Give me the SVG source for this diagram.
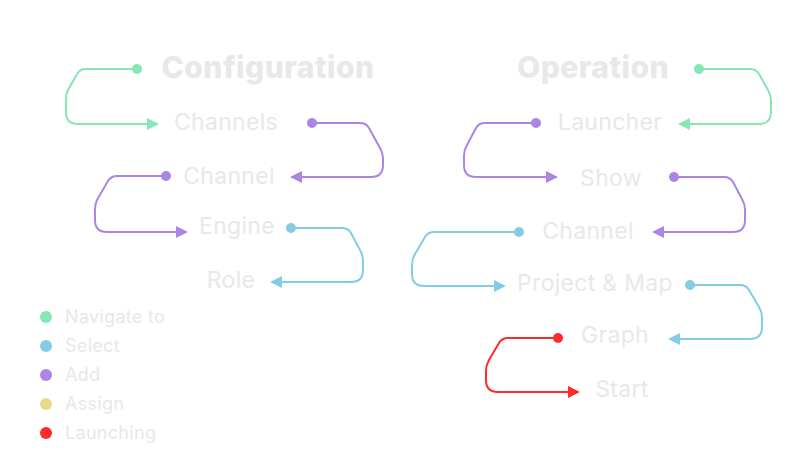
<svg xmlns="http://www.w3.org/2000/svg" width="800" height="468" viewBox="0 0 800 468">
<style>
.t{font-family:Inter,"Noto Sans","Liberation Sans",sans-serif;fill:#e8e8e8;text-anchor:middle;font-size:23px;letter-spacing:0.3px}
.h{font-size:30px;font-weight:800;letter-spacing:0.5px}
.lg{font-family:Inter,"Noto Sans","Liberation Sans",sans-serif;fill:#e8e8e8;font-size:18px;letter-spacing:0.3px}
.c{fill:none;stroke-width:2}
.g{stroke:#86e6b4}.b{stroke:#84cce6}.p{stroke:#ab84e6}.r{stroke:#ff2b2b}
</style>
<defs>
<marker id="ag" markerUnits="userSpaceOnUse" markerWidth="12" markerHeight="12" viewBox="0 0 12 12" refX="0" refY="6" orient="auto"><path d="M0,0L12,6L0,12z" fill="#86e6b4"/></marker>
<marker id="ab" markerUnits="userSpaceOnUse" markerWidth="12" markerHeight="12" viewBox="0 0 12 12" refX="0" refY="6" orient="auto"><path d="M0,0L12,6L0,12z" fill="#84cce6"/></marker>
<marker id="ap" markerUnits="userSpaceOnUse" markerWidth="12" markerHeight="12" viewBox="0 0 12 12" refX="0" refY="6" orient="auto"><path d="M0,0L12,6L0,12z" fill="#ab84e6"/></marker>
<marker id="ar" markerUnits="userSpaceOnUse" markerWidth="12" markerHeight="12" viewBox="0 0 12 12" refX="0" refY="6" orient="auto"><path d="M0,0L12,6L0,12z" fill="#ff2b2b"/></marker>
<marker id="dg" markerUnits="userSpaceOnUse" markerWidth="10" markerHeight="10" viewBox="0 0 10 10" refX="5" refY="5"><circle cx="5" cy="5" r="5" fill="#86e6b4"/></marker>
<marker id="db" markerUnits="userSpaceOnUse" markerWidth="10" markerHeight="10" viewBox="0 0 10 10" refX="5" refY="5"><circle cx="5" cy="5" r="5" fill="#84cce6"/></marker>
<marker id="dp" markerUnits="userSpaceOnUse" markerWidth="10" markerHeight="10" viewBox="0 0 10 10" refX="5" refY="5"><circle cx="5" cy="5" r="5" fill="#ab84e6"/></marker>
<marker id="dr" markerUnits="userSpaceOnUse" markerWidth="10" markerHeight="10" viewBox="0 0 10 10" refX="5" refY="5"><circle cx="5" cy="5" r="5" fill="#ff2b2b"/></marker>
</defs>
<rect width="800" height="468" fill="#ffffff"/>
<g id="connectors">
<path class="c g" marker-start="url(#dg)" marker-end="url(#ag)" d="M137,69 H86 Q80,69 77,74 L68,90 Q66,94 66,100 V112 Q66,124 78,124 H147"/>
<path class="c p" marker-start="url(#dp)" marker-end="url(#ap)" d="M312,123 H360 Q366,123 369,128 L380,148 Q383,153 383,160 V165 Q383,177 371,177 H302"/>
<path class="c p" marker-start="url(#dp)" marker-end="url(#ap)" d="M166,176 H117 Q111,176 108,181 L97,200 Q95,204 95,210 V220 Q95,232 107,232 H176"/>
<path class="c b" marker-start="url(#db)" marker-end="url(#ab)" d="M291,228 H342 Q348,228 351,233 L360,250 Q363,255 363,261 V270 Q363,282 351,282 H282"/>
<path class="c g" marker-start="url(#dg)" marker-end="url(#ag)" d="M699,69 H750 Q756,69 759,74 L768,90 Q771,95 771,101 V112 Q771,124 759,124 H690"/>
<path class="c p" marker-start="url(#dp)" marker-end="url(#ap)" d="M536,123 H485 Q479,123 476,128 L467,145 Q464,150 464,156 V165 Q464,177 476,177 H546"/>
<path class="c p" marker-start="url(#dp)" marker-end="url(#ap)" d="M674,177 H724 Q730,177 733,182 L742,199 Q745,204 745,210 V220 Q745,232 733,232 H664"/>
<path class="c b" marker-start="url(#db)" marker-end="url(#ab)" d="M519,232 H434 Q428,232 425,237 L415,254 Q412,259 412,265 V274 Q412,286 424,286 H494"/>
<path class="c b" marker-start="url(#db)" marker-end="url(#ab)" d="M690,285 H740 Q746,285 749,290 L759,307 Q762,312 762,318 V327 Q762,339 750,339 H680"/>
<path class="c r" marker-start="url(#dr)" marker-end="url(#ar)" d="M558,338 H508 Q502,338 499,343 L489,360 Q486,365 486,371 V380 Q486,392 498,392 H568"/>
</g>
<g id="title-configuration"><text class="t h" x="268" y="78">Configuration</text></g>
<g id="title-operation"><text class="t h" x="593" y="78">Operation</text></g>
<g id="node-channels"><text class="t" x="226" y="130">Channels</text></g>
<g id="node-channel-left"><text class="t" x="229" y="184">Channel</text></g>
<g id="node-engine"><text class="t" x="237" y="234">Engine</text></g>
<g id="node-role"><text class="t" x="231" y="288">Role</text></g>
<g id="node-launcher"><text class="t" x="610" y="130">Launcher</text></g>
<g id="node-show"><text class="t" x="611" y="186">Show</text></g>
<g id="node-channel-right"><text class="t" x="588" y="239">Channel</text></g>
<g id="node-project-map"><text class="t" x="595" y="291">Project &amp; Map</text></g>
<g id="node-graph"><text class="t" x="615" y="343">Graph</text></g>
<g id="node-start"><text class="t" x="622" y="397">Start</text></g>
<g id="legend">
<circle cx="46" cy="317" r="6" fill="#86e6b4"/><text class="lg" x="65" y="323">Navigate to</text>
<circle cx="46" cy="346" r="6" fill="#84cce6"/><text class="lg" x="65" y="352">Select</text>
<circle cx="46" cy="375" r="6" fill="#ab84e6"/><text class="lg" x="65" y="381">Add</text>
<circle cx="46" cy="404" r="6" fill="#e6dc88"/><text class="lg" x="65" y="410">Assign</text>
<circle cx="46" cy="433" r="6" fill="#ff2b2b"/><text class="lg" x="65" y="439">Launching</text>
</g>
</svg>
